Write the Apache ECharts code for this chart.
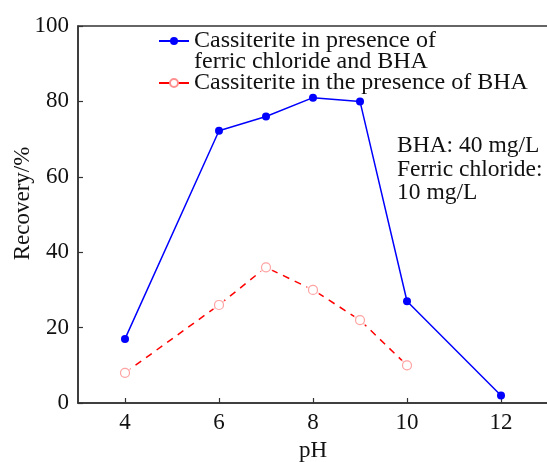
<!DOCTYPE html>
<html>
<head>
<meta charset="utf-8">
<style>html,body{margin:0;padding:0;background:#fff}#c{width:547px;height:462px}</style>
<script src="https://cdn.jsdelivr.net/npm/echarts@6/dist/echarts.min.js"></script>
</head>
<body>
<div id="c"></div>
<script>
var phBlue = [4, 6, 7, 8, 9, 10, 12];
var recBlue = [17, 72.2, 76, 81, 80, 27, 2];
var phRed = [4, 6, 7, 8, 9, 10];
var recRed = [8, 26, 36, 30, 22, 10];
var xTicks = [4, 6, 8, 10, 12];
var nameBlue = 'Cassiterite in presence of\nferric chloride and BHA';
var nameRed = 'Cassiterite in the presence of BHA';
var note = 'BHA: 40 mg/L\nFerric chloride:\n10 mg/L';

function pairs(xs, ys) { return xs.map(function (x, i) { return [x, ys[i]]; }); }

var FONT = 'Liberation Serif';
var chart = echarts.init(document.getElementById('c'));
chart.setOption({
  animation: false,
  backgroundColor: '#fff',
  grid: { left: 78, top: 26, right: -1, bottom: 59, outerBoundsMode: 'none', containLabel: false, show: true, borderColor: '#333', borderWidth: 1.5, backgroundColor: 'transparent' },
  legend: {
    orient: 'vertical', left: 158, top: 8, padding: 0, itemWidth: 30, itemHeight: 10, itemGap: -3,
    textStyle: { fontFamily: FONT, fontSize: 24, color: '#111', lineHeight: 21 },
    formatter: function (n) { return n === nameBlue ? '\n' + n : n; },
    data: [
      { name: nameBlue },
      { name: nameRed, lineStyle: { type: 'solid', color: '#ff0000' } }
    ]
  },
  xAxis: {
    type: 'value', min: 3, max: 13, interval: 1,
    name: 'pH', nameLocation: 'middle', nameGap: 36, nameMoveOverlap: false,
    nameTextStyle: { fontFamily: FONT, fontSize: 23, color: '#111' },
    axisLine: { show: true, lineStyle: { color: '#333', width: 1.5 } },
    axisTick: { show: true, inside: true, length: 5, customValues: xTicks, lineStyle: { color: '#333', width: 1.2 } },
    axisLabel: { customValues: xTicks, margin: 8, fontFamily: FONT, fontSize: 23, color: '#111' },
    splitLine: { show: false }
  },
  yAxis: {
    type: 'value', min: 0, max: 100, interval: 20,
    name: 'Recovery/%', nameLocation: 'middle', nameGap: 44, nameRotate: 90, nameMoveOverlap: false,
    nameTextStyle: { fontFamily: FONT, fontSize: 23, color: '#111', padding: [0, 0, 0, 22] },
    axisLine: { show: true, lineStyle: { color: '#333', width: 1.5 } },
    axisTick: { show: true, inside: true, length: 5, lineStyle: { color: '#333', width: 1.2 } },
    axisLabel: { margin: 9, fontFamily: FONT, fontSize: 23, color: '#111' },
    splitLine: { show: false }
  },
  series: [
    {
      name: nameBlue, type: 'line', data: pairs(phBlue, recBlue),
      symbol: 'circle', symbolSize: 8,
      lineStyle: { color: '#0000ff', width: 1.5 },
      itemStyle: { color: '#0000ff' }, z: 5
    },
    {
      name: nameRed, type: 'line', data: pairs(phRed, recRed),
      symbol: 'circle', symbolSize: 9,
      lineStyle: { color: '#ff0000', width: 1.5, type: [7, 6] },
      itemStyle: { color: '#fff', borderColor: '#ff9090', borderWidth: 1.2 }, z: 2
    },
    {
      name: 'halo', type: 'scatter', data: pairs(phRed, recRed), symbol: 'circle', symbolSize: 14,
      itemStyle: { color: '#fff' }, z: 3, silent: true
    },
    {
      name: 'redMarks', type: 'scatter', data: pairs(phRed, recRed), symbol: 'circle', symbolSize: 9,
      itemStyle: { color: '#fff', borderColor: '#ff9090', borderWidth: 1.2 }, z: 4, silent: true
    }
  ],
  graphic: [
    { type: 'text', left: 397, top: 134, style: { text: note, fontFamily: FONT, fontSize: 23.5, lineHeight: 23.5, fill: '#111' } }
  ]
});
</script>
</body>
</html>
